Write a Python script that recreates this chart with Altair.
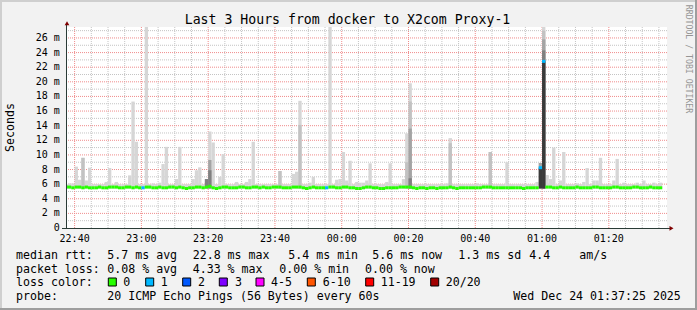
import altair as alt
import pandas as pd

MONO = "DejaVu Sans Mono"
L, T, W, H = 66, 27, 601, 201          # plot area origin and size (pixels)

# ---------------- data: one bin per minute, minutes after 22:00 ----------------
bin_start = list(range(37, 216))
median_ms = [
    5.6, 5.6, 5.5, 5.6, 5.6, 5.5, 5.6, 5.5, 5.5, 5.5,
    5.6, 5.5, 5.5, 5.6, 5.6, 5.6, 5.5, 5.5, 5.6, 5.6,
    5.5, 5.6, 5.5, 5.5, 5.6, 5.6, 5.5, 5.5, 5.6, 5.5,
    5.5, 5.6, 5.6, 5.5, 5.6, 5.5, 5.4, 5.5, 5.5, 5.6,
    5.6, 5.5, 5.6, 5.7, 5.5, 5.4, 5.5, 5.6, 5.6, 5.5,
    5.5, 5.5, 5.6, 5.6, 5.5, 5.5, 5.6, 5.6, 5.5, 5.6,
    5.5, 5.5, 5.6, 5.6, 5.6, 5.5, 5.5, 5.5, 5.6, 5.6,
    5.6, 5.5, 5.4, 5.5, 5.6, 5.5, 5.5, 5.5, 5.5, 5.6,
    5.6, 5.5, 5.5, 5.6, 5.6, 5.5, 5.5, 5.4, 5.4, 5.5,
    5.6, 5.6, 5.5, 5.5, 5.4, 5.4, 5.5, 5.5, 5.5, 5.5,
    5.6, 5.6, 5.6, 5.6, 5.5, 5.4, 5.5, 5.5, 5.4, 5.5,
    5.5, 5.4, 5.5, 5.5, 5.5, 5.6, 5.5, 5.4, 5.5, 5.5,
    5.5, 5.5, 5.5, 5.5, 5.5, 5.6, 5.6, 5.6, 5.5, 5.5,
    5.5, 5.5, 5.5, 5.5, 5.5, 5.5, 5.5, 5.4, 5.5, 5.5,
    5.5, 5.5, 8.25, 22.8, 5.6, 5.6, 5.5, 5.5, 5.6, 5.5,
    5.5, 5.5, 5.5, 5.6, 5.5, 5.5, 5.5, 5.5, 5.6, 5.6,
    5.5, 5.5, 5.5, 5.5, 5.6, 5.6, 5.5, 5.5, 5.5, 5.5,
    5.6, 5.6, 5.5, 5.5, 5.5, 5.6, 5.5, 5.5, 5.5,
]
max_ms = [
    6.0, 6.1, 6.1, 8.4, 6.6, 9.6, 6.5, 8.25, 6.0, 6.0,
    6.0, 6.0, 6.3, 8.2, 6.0, 6.3, 6.0, 6.0, 6.0, 7.2,
    17.3, 11.8, 6.0, 6.0, 28.0, 6.0, 6.1, 6.0, 6.2, 8.75,
    11.1, 6.0, 6.0, 6.7, 11.1, 6.0, 6.0, 6.0, 6.7, 7.9,
    8.3, 6.0, 6.7, 13.2, 11.7, 6.0, 7.0, 10.1, 6.0, 6.0,
    6.0, 6.3, 6.0, 6.0, 6.3, 6.7, 11.8, 6.0, 6.0, 6.0,
    6.0, 6.0, 6.0, 6.0, 7.8, 6.0, 6.0, 6.0, 7.4, 7.7,
    17.4, 6.0, 6.0, 6.2, 7.0, 6.0, 6.0, 6.0, 6.0, 28.0,
    6.0, 6.6, 6.7, 10.4, 6.5, 9.2, 6.0, 6.3, 6.2, 6.2,
    6.5, 8.85, 6.0, 6.0, 6.0, 6.0, 6.3, 8.85, 6.0, 6.0,
    6.0, 6.7, 12.95, 19.8, 6.0, 6.0, 6.0, 6.0, 6.0, 6.0,
    6.0, 6.0, 6.0, 6.0, 6.1, 12.3, 6.0, 6.0, 6.0, 6.0,
    6.0, 6.0, 6.0, 6.1, 6.0, 6.0, 6.0, 10.4, 6.0, 6.0,
    6.0, 6.0, 9.0, 6.0, 6.0, 6.0, 6.0, 6.0, 6.0, 6.0,
    6.0, 6.3, 8.9, 28.0, 7.25, 6.7, 11.0, 6.0, 6.5, 10.4,
    6.0, 6.0, 6.0, 6.1, 6.0, 6.3, 8.2, 6.0, 6.5, 6.5,
    9.6, 6.0, 6.0, 6.0, 6.5, 9.45, 6.0, 6.2, 6.0, 6.0,
    6.0, 6.2, 6.0, 6.5, 6.0, 6.0, 6.2, 6.0, 6.2,
]
assert len(bin_start) == len(median_ms) == len(max_ms)
smoke_floor_ms = 5.4

loss_minutes = [60, 115, 179, 180]
loss_pings = [1, 1, 1, 1]

# darker smoke bands (several pings far from the median)
shade2_min = [42, 101, 107, 139, 140, 152, 164, 180]
shade2_top = [9.6, 7.8, 14.1, 9.0, 17.3, 11.6, 10.4, 27.0]
shade3_min = [80, 140, 179, 180]
shade3_top = [9.3, 13.6, 8.9, 25.8]
shade4_min = [79, 80, 140, 180]
shade4_top = [6.7, 7.9, 6.8, 24.3]
shade5_min = [179, 180]
shade5_top = [8.25, 22.8]

# axes
x_ticks = [40, 60, 80, 100, 120, 140, 160, 180, 200]
x_tick_labels = ["22:40", "23:00", "23:20", "23:40", "00:00", "00:20", "00:40", "01:00", "01:20"]
y_ticks = [0, 2, 4, 6, 8, 10, 12, 14, 16, 18, 20, 22, 24, 26]
y_tick_labels = ["0", "2 m", "4 m", "6 m", "8 m", "10 m", "12 m", "14 m", "16 m",
                 "18 m", "20 m", "22 m", "24 m", "26 m"]

# texts
title_text = "Last 3 Hours from docker to X2com Proxy-1"
y_title = "Seconds"
watermark = "RRDTOOL / TOBI OETIKER"
line1 = ["median rtt:", "5.7 ms avg", "22.8 ms max", "5.4 ms min", "5.6 ms now", "1.3 ms sd", "4.4", "am/s"]
line2 = ["packet loss:", "0.08 % avg", "4.33 % max", "0.00 % min", "0.00 % now"]
loss_labels = ["0", "1", "2", "3", "4-5", "6-10", "11-19", "20/20"]
loss_colors = ["#26ff00", "#00b8ff", "#0059ff", "#7e00ff", "#ff00ff", "#ff5500", "#ff0000", "#a10000"]
line4 = ["probe:", "20 ICMP Echo Pings (56 Bytes) every 60s", "Wed Dec 24 01:37:25 2025"]

# ---------------- tables ----------------
main = pd.DataFrame({"m": bin_start, "med": median_ms, "hi": max_ms})
main["m_end"] = main["m"] + 1
loss_map = dict(zip(loss_minutes, loss_pings))
main["loss"] = [loss_map.get(m, 0) for m in bin_start]

xs = alt.Scale(domain=[37.42, 217.42], nice=False, zero=False)
ys = alt.Scale(domain=[0, 27.5], nice=False, zero=False)
AXIS = "#2a3b36"


def X(field):
    return alt.X(field, scale=xs, axis=None)


def Y(field):
    return alt.Y(field, scale=ys, axis=None)


layers = []

# grid (drawn under the smoke)
y_minor = [1, 3, 5, 7, 9, 11, 13, 15, 17, 19, 21, 23, 25, 27]
y_major = y_ticks[1:]
x_minor = [v for v in range(40, 218, 5) if v % 20]
x_major = x_ticks
MINOR, MAJOR = "#c4c4c4", "#f08c8c"
layers.append(alt.Chart(pd.DataFrame({"v": y_minor})).mark_rule(color=MINOR, strokeDash=[1, 1])
              .encode(y=Y("v:Q")))
layers.append(alt.Chart(pd.DataFrame({"v": x_minor})).mark_rule(color=MINOR, strokeDash=[1, 1])
              .encode(x=X("v:Q")))
layers.append(alt.Chart(pd.DataFrame({"v": y_major})).mark_rule(color=MAJOR, strokeDash=[1, 1])
              .encode(y=Y("v:Q")))
layers.append(alt.Chart(pd.DataFrame({"v": x_major})).mark_rule(color=MAJOR, strokeDash=[1, 1])
              .encode(x=X("v:Q")))

# smoke: light band from floor to max
layers.append(
    alt.Chart(main).mark_rect(color="#d6d6d6", clip=True).encode(
        x=X("m:Q"), x2=alt.X2("m_end"), y=Y("hi:Q"), y2=alt.datum(smoke_floor_ms),
    )
)


def shade(mins, tops, color):
    d = pd.DataFrame({"m": mins, "top": tops})
    d["m_end"] = d["m"] + 1
    return alt.Chart(d).mark_rect(color=color, clip=True).encode(
        x=X("m:Q"), x2=alt.X2("m_end"), y=Y("top:Q"), y2=alt.datum(smoke_floor_ms),
    )


layers.append(shade(shade2_min, shade2_top, "#c2c2c2"))
layers.append(shade(shade3_min, shade3_top, "#a4a4a4"))
layers.append(shade(shade4_min, shade4_top, "#808080"))
layers.append(shade(shade5_min, shade5_top, "#3a3a3a"))

# median line coloured by loss
layers.append(
    alt.Chart(main).mark_rule(strokeWidth=3, clip=True).encode(
        x=X("m:Q"), x2=alt.X2("m_end"), y=Y("med:Q"),
        color=alt.Color("loss:N", scale=alt.Scale(domain=[0, 1], range=[loss_colors[0], loss_colors[1]]),
                        legend=None),
    )
)

one = pd.DataFrame({"k": [0]})


def px_rect(x1, y1, x2, y2, color, stroke=None):
    kw = dict(color=color)
    if stroke:
        kw.update(stroke=stroke, strokeWidth=1)
    return alt.Chart(one).mark_rect(**kw).encode(
        x=alt.value(x1 - L), x2=alt.value(x2 - L), y=alt.value(y1 - T), y2=alt.value(y2 - T))


def px_rule(x1, y1, x2, y2, color):
    return alt.Chart(one).mark_rule(color=color, strokeWidth=1).encode(
        x=alt.value(x1 - L), x2=alt.value(x2 - L), y=alt.value(y1 - T), y2=alt.value(y2 - T))


def label(s, x, y, size=11.6, align="left", baseline="alphabetic", angle=None, color="#000000"):
    kw = dict(text=s, font=MONO, fontSize=size, align=align, baseline=baseline, color=color)
    if angle is not None:
        kw["angle"] = angle
    return alt.Chart(one).mark_text(**kw).encode(x=alt.value(x - L), y=alt.value(y - T))


# tick labels placed through the scales
layers.append(alt.Chart(pd.DataFrame({"v": x_ticks, "lab": x_tick_labels}))
              .mark_text(font=MONO, fontSize=10, align="center", baseline="alphabetic", color="#000000")
              .encode(x=X("v:Q"), y=alt.value(242 - T), text="lab:N"))
layers.append(alt.Chart(pd.DataFrame({"v": y_ticks, "lab": y_tick_labels}))
              .mark_text(font=MONO, fontSize=10, align="right", baseline="middle", color="#000000")
              .encode(x=alt.value(59.8 - L), y=Y("v:Q"), text="lab:N"))

# frame
layers.append(px_rect(0, 0, 697, 2, "#cfcfcf"))
layers.append(px_rect(0, 0, 2, 310, "#cfcfcf"))
layers.append(px_rect(0, 308, 697, 310, "#9e9e9e"))
layers.append(px_rect(695, 0, 697, 310, "#9e9e9e"))

# axis lines and arrows
layers.append(px_rule(66.5, 228, 66.5, 23, AXIS))
layers.append(px_rule(62, 228.5, 670, 228.5, AXIS))
layers.append(alt.Chart(one).mark_point(shape="triangle-up", filled=True, size=22, color="#7f0000", opacity=1)
              .encode(x=alt.value(67 - L), y=alt.value(23.3 - T)))
layers.append(alt.Chart(one).mark_point(shape="triangle-right", filled=True, size=22, color="#7f0000", opacity=1)
              .encode(x=alt.value(671.5 - L), y=alt.value(228.3 - T)))

# texts
layers.append(label(title_text, 347.5, 24, size=13.2, align="center"))
layers.append(label(y_title, 10.5, 127.5, align="center", baseline="middle", angle=270))
layers.append(label(watermark, 688, 59, size=8.2, align="center", baseline="middle", angle=90, color="#959595"))

for s, x in zip(line1, [16, 107.3, 192.7, 288.3, 372.3, 458.3, 529.3, 579.3]):
    layers.append(label(s, x, 259))
for s, x in zip(line2, [16, 107.3, 192.7, 279.3, 365]):
    layers.append(label(s, x, 272.7))
layers.append(label("loss color:", 16, 286.4))
for lab, col, bx, tx in zip(loss_labels, loss_colors,
                            [108.3, 145.7, 182.7, 219.3, 256, 307.3, 365.7, 430.7],
                            [123.3, 160.7, 198, 235, 271, 322.7, 380.7, 445.7]):
    layers.append(px_rect(bx, 278, bx + 8, 286, col, stroke="#000000"))
    layers.append(label(lab, tx, 286.4))
for s, x in zip(line4, [16, 107.3, 513.3]):
    layers.append(label(s, x, 300.1))

chart = alt.layer(*layers).properties(
    width=W, height=H,
    padding={"left": L, "top": T, "right": 697 - L - W, "bottom": 310 - T - H},
    autosize=alt.AutoSizeParams(type="none"),
    background="#f2f2f2",
).configure_view(fill="white", stroke=None)

chart.save("out.html", embed_options={"renderer": "svg", "actions": False})
